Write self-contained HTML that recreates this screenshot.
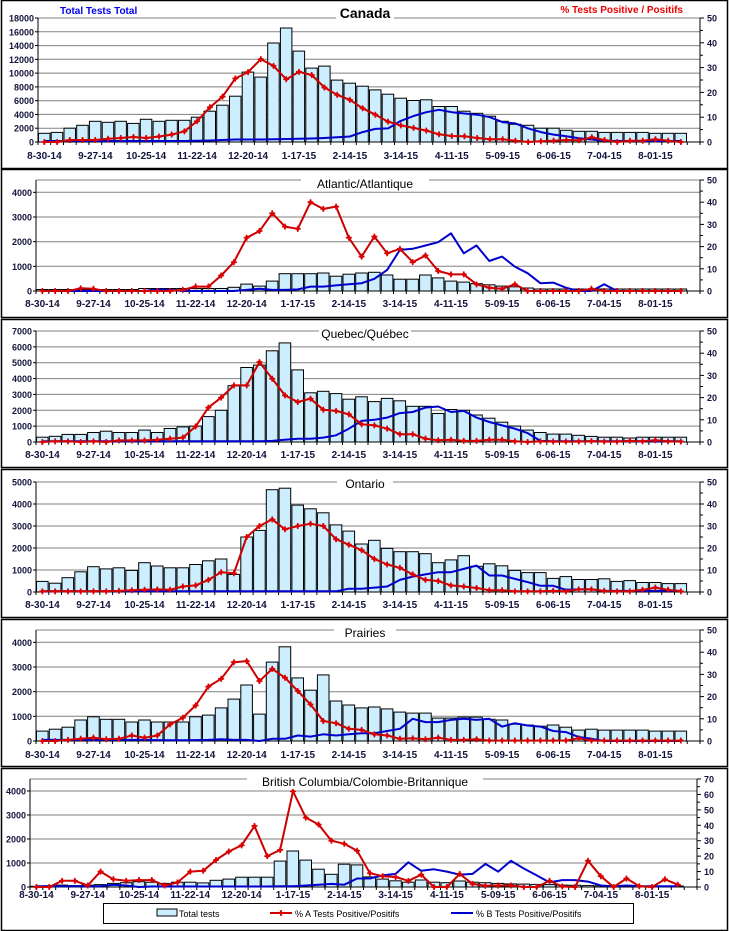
<!DOCTYPE html>
<html><head><meta charset="utf-8"><style>
html,body{margin:0;padding:0;background:#fff;width:729px;height:931px;overflow:hidden}
svg{display:block}
</style></head><body>
<div id="c"></div>
<script>
var FONT='font-family="Liberation Sans, Arial, sans-serif"';
var P=[
{ft:0,fb:168,x0:38,x1:700,yt:18,yb:142,lmax:18000,lstep:2000,rmax:50,rstep:10,title:"Canada",tfs:14,tb:18,tt:0,xlb:159,
bars:[1260,1400,2000,2430,3000,2860,3000,2700,3300,3000,3150,3150,3600,4470,5340,6650,10150,9420,14370,16550,13200,10730,11020,8980,8540,8100,7570,6940,6360,6020,6120,5150,5150,4470,4170,3740,3000,2570,2430,2000,2000,1700,1550,1550,1400,1400,1400,1400,1260,1260,1260],
red:[0,0,0.8,0.8,0.8,1.3,1.6,2,1.6,2.2,3,4.3,8.4,14,18.3,25.6,28.2,33.4,30.7,25.3,28.3,27,22,19,17,13.6,11,8.2,6.7,5.7,4.6,3.1,2.4,2.3,1.6,1.1,1.1,0.5,0,0.3,0.5,0.8,0.7,1.9,0.8,0,0.5,0.5,1.1,0.5,0],
blue:[0.4,0.4,0.4,0.4,0.4,0.4,0.4,0.4,0.4,0.4,0.4,0.4,0.5,0.6,0.8,1,1,1,1.1,1.2,1.3,1.4,1.6,1.9,2.2,4,5.3,5.5,8.5,10.5,12,13,12,11.5,11,10,8,7.5,5.5,4,3,2.3,1.5,1,0.5,0.4,0.4,0.4,0.4,0.4,0.4]},
{ft:169,fb:317,x0:36,x1:700,yt:180,yb:291,lmax:4500,lstep:1000,rmax:50,rstep:10,title:"Atlantic/Atlantique",tfs:12,tb:188,xlb:307,
bars:[60,60,60,60,60,60,60,60,100,100,100,100,100,100,100,150,280,200,400,700,700,700,730,600,680,730,760,650,480,480,650,530,400,360,300,250,200,170,120,80,80,80,80,80,80,80,80,80,80,80,80],
red:[0,0,0,1.2,1,0,0,0,0,0,0,0.5,2,2,7,13,24,27,35,29,28,40,37,38,24,15.5,24.5,17,19,13,16,9,7.5,7.5,3,1.5,1,3,0,0,0,0,0,1,0,0,0,0,0,0,0],
blue:[0,0,0,0,0,0,0,0,0,0.7,0.5,0,0,0,0,0,0.5,1,0.5,0.5,0.7,2,2,2.5,3,3.5,5.5,9.5,18.5,19,20.5,22,26,17,20.5,13.5,15.5,11,8,3.5,3.8,1.5,0,0,3,0,0,0,0,0,0]},
{ft:319,fb:467,x0:36,x1:700,yt:331,yb:442,lmax:7000,lstep:1000,rmax:50,rstep:10,title:"Quebec/Québec",tfs:12,tb:338,xlb:458,
bars:[300,360,480,480,600,680,600,600,750,600,850,950,1000,1600,2000,3550,4700,4850,5750,6250,4550,3100,3200,3050,2700,2850,2550,2750,2600,2250,2250,1800,2050,2000,1700,1500,1250,1000,750,600,500,500,420,350,300,300,250,300,300,300,300],
red:[0,0.3,0.3,0,0.3,0,0.7,0.7,0.7,1,1.5,2,7,15.5,20,25.5,25.5,36,28.5,21,18,19.5,14.5,14,12.5,8,7.5,6,3.5,3.5,1.5,0.8,1,0.5,0.5,1,1,0.3,0,0.3,0.2,0.2,0.2,0.4,0.2,0.2,0.5,0.3,0.8,0.3,0.2],
blue:[0.3,0.3,0.3,0.3,0.3,0.3,0.3,0.3,0.3,0.3,0.3,0.3,0.3,0.3,0.3,0.3,0.3,0.3,0.5,1,1.5,1.5,2,3,6,9.5,10,11,13,13.5,15.5,16,13.5,14,11,9,7.5,6,4,0.5,0.3,0.3,0.3,0.3,0.3,0.3,0.3,0.3,0.3,0.3,0.3]},
{ft:469,fb:617,x0:36,x1:700,yt:482,yb:592,lmax:5000,lstep:1000,rmax:50,rstep:10,title:"Ontario",tfs:12,tb:488,xlb:608,
bars:[480,400,650,920,1150,1050,1100,980,1330,1180,1100,1100,1250,1420,1500,800,2500,2800,4650,4720,3950,3780,3600,3050,2770,2180,2350,1980,1830,1830,1740,1330,1460,1650,1170,1280,1190,980,880,880,620,700,570,570,600,480,520,430,430,380,380],
red:[0.3,0.3,0.3,0.3,0.3,0.3,0.5,0.8,1,1.2,1,2.5,3,5.5,9,8.5,25,30,33,28.5,30,31,30,24,21.5,19,15,12.5,11,8,5.5,5,3,2.5,1.8,0.8,0.8,0.3,0.3,0.3,0.5,0.3,1.2,1.2,0.5,0.3,0.3,1,2,1,0.3],
blue:[0.3,0.3,0.3,0.3,0.3,0.3,0.3,0.3,0.3,0.3,0.3,0.3,0.3,0.3,0.3,0.3,0.3,0.3,0.3,0.3,0.3,0.3,0.3,0.3,1.5,1.5,2,2.5,5.5,7,8,9,9,10.5,12,7.5,7.5,6,4.5,2.8,2.8,1,1.2,1.2,0.5,0.5,0.5,0.5,0.5,0.5,0.5]},
{ft:619,fb:766,x0:36,x1:700,yt:630,yb:741,lmax:4500,lstep:1000,rmax:50,rstep:10,title:"Prairies",tfs:12,tb:637,xlb:758,
bars:[400,480,560,850,980,880,880,770,850,770,770,770,980,1050,1340,1700,2270,1090,3200,3820,2560,2060,2680,1620,1460,1340,1380,1300,1170,1130,1130,930,930,970,970,880,850,680,650,600,650,560,440,480,440,440,440,440,400,400,400],
red:[0,0,0.5,1,1.5,0.8,1,2.5,1.5,2.5,7.5,10.5,16,24.5,28,35.5,36,27,32.5,28.5,22.5,16.5,9,8,5.5,5,3,2.5,1,1.2,0.8,1.5,0.5,0.5,0.8,0.2,0.2,0.2,0.2,0.2,0.2,0.2,1.2,0.2,0.2,0.2,0.2,0.2,0.2,0.2,0.2],
blue:[0.5,0.5,0.5,0.5,0.5,0.5,0.5,0.5,0.5,0.4,0.3,0.3,0.4,0.5,0.8,0.5,0.5,0,1,1,2.5,2,3,2.5,3,3.5,3.5,4.5,5.5,10,8.5,8.5,9.5,10,9.5,10,6.5,8,7,6.5,4.5,4,1.8,1,0,0,0,0,0,0,0]},
{ft:768,fb:930,x0:30,x1:697,yt:779,yb:887,lmax:4500,lstep:1000,rmax:70,rstep:10,title:"British Columbia/Colombie-Britannique",tfs:12,tb:786,xlb:898,
bars:[30,50,80,60,80,100,150,180,220,200,150,200,200,170,280,330,410,410,410,1080,1500,1120,740,530,950,920,420,330,260,200,290,200,180,250,200,180,150,130,120,110,100,80,70,60,50,40,40,40,40,40,40],
red:[0,0,4,4,1,10,5,4,4.5,4.5,1,3,10,10.5,17.5,23,27,39.5,20,24,62,45,40.5,30,28,23.5,9,7,6.5,4,8,0,0,8.5,2,0.8,1,1,0,0,4,0.3,0,17,7,0,5.5,0.5,0,5,1.5],
blue:[0.5,0.5,0.5,0.5,0.5,0.5,1.5,1,0,0.3,0.3,0.3,0.3,0.3,0.3,0.3,0.3,0.3,0.3,0.5,0.5,1,1.5,2,1.5,5.5,5.5,7.5,8.5,16,10.5,11.5,10,8,8.5,15,10,17,12,7.5,3,4.5,4.5,3.5,1,0.5,1,0.5,0.5,0.5,0.5]}
];
var labs=["8-30-14","9-27-14","10-25-14","11-22-14","12-20-14","1-17-15","2-14-15","3-14-15","4-11-15","5-09-15","6-06-15","7-04-15","8-01-15"];
var s='<svg xmlns="http://www.w3.org/2000/svg" width="729" height="931" viewBox="0 0 729 931" '+FONT+'>';
s+='<rect x="0" y="0" width="729" height="931" fill="#fff"/>';
P.forEach(function(p,pi){
  var N=52,cw=(p.x1-p.x0)/N;
  s+='<rect x="1.5" y="'+(p.ft+0.5)+'" width="726" height="'+(p.fb-p.ft)+'" fill="none" stroke="#000" stroke-width="1.5"/>';
  function ly(v){return p.yb-(v/p.lmax)*(p.yb-p.yt);}
  function ry(v){return p.yb-(v/p.rmax)*(p.yb-p.yt);}
  // grid
  for(var v=p.lstep;v<=p.lmax+1;v+=p.lstep){var y=ly(v).toFixed(1);s+='<line x1="'+p.x0+'" x2="'+p.x1+'" y1="'+y+'" y2="'+y+'" stroke="#808080" stroke-width="1"/>';}
  s+='<line x1="'+p.x0+'" x2="'+p.x1+'" y1="'+p.yt+'" y2="'+p.yt+'" stroke="#808080" stroke-width="1"/>';
  // left labels
  for(var v=0;v<=p.lmax+1;v+=p.lstep){var y=ly(v);s+='<text x="'+(p.x0-4)+'" y="'+(y+3.5).toFixed(1)+'" font-size="9" font-weight="bold" fill="#14143c" text-anchor="end">'+v+'</text>';
   s+='<line x1="'+(p.x0-3)+'" x2="'+p.x0+'" y1="'+y+'" y2="'+y+'" stroke="#000"/>';}
  // right labels
  for(var v=0;v<=p.rmax;v+=p.rstep){var y=ry(v);s+='<text x="'+(p.x1+7)+'" y="'+(y+3.5).toFixed(1)+'" font-size="9" font-weight="bold" fill="#14143c">'+v+'</text>';
   s+='<line x1="'+p.x1+'" x2="'+(p.x1+4)+'" y1="'+y+'" y2="'+y+'" stroke="#000"/>';
   if(v<p.rmax){var y2=ry(v+p.rstep/2);s+='<line x1="'+p.x1+'" x2="'+(p.x1+3)+'" y1="'+y2+'" y2="'+y2+'" stroke="#000"/>';}}
  // bars
  p.bars.forEach(function(b,i){var x=p.x0+i*cw+0.5,y=ly(b);s+='<rect x="'+x.toFixed(1)+'" y="'+y.toFixed(1)+'" width="'+(cw-1.2).toFixed(1)+'" height="'+(p.yb-y).toFixed(1)+'" fill="#cceeff" stroke="#000" stroke-width="1"/>';});
  // axes
  s+='<line x1="'+p.x0+'" x2="'+p.x0+'" y1="'+p.yt+'" y2="'+p.yb+'" stroke="#000"/>';
  s+='<line x1="'+p.x1+'" x2="'+p.x1+'" y1="'+p.yt+'" y2="'+p.yb+'" stroke="#000"/>';
  s+='<line x1="'+p.x0+'" x2="'+p.x1+'" y1="'+p.yb+'" y2="'+p.yb+'" stroke="#000"/>';
  for(var i=0;i<=N;i++){var x=(p.x0+i*cw).toFixed(1);s+='<line x1="'+x+'" x2="'+x+'" y1="'+p.yb+'" y2="'+(p.yb+3)+'" stroke="#000"/>';}
  // x labels
  labs.forEach(function(l,k){var x=p.x0+(4*k+0.5)*cw;s+='<text x="'+x.toFixed(1)+'" y="'+p.xlb+'" font-size="10" font-weight="bold" fill="#14143c" text-anchor="middle">'+l+'</text>';});
  // blue line
  var bp=p.blue.map(function(v,i){return (p.x0+(i+0.5)*cw).toFixed(1)+','+ry(v).toFixed(1);}).join(' ');
  s+='<polyline points="'+bp+'" fill="none" stroke="#0000cc" stroke-width="2" stroke-linejoin="round"/>';
  // red line
  var rp=p.red.map(function(v,i){return (p.x0+(i+0.5)*cw).toFixed(1)+','+ry(v).toFixed(1);}).join(' ');
  s+='<polyline points="'+rp+'" fill="none" stroke="#cc0000" stroke-width="2" stroke-linejoin="round"/>';
  p.red.forEach(function(v,i){var x=p.x0+(i+0.5)*cw,y=ry(v);
    s+='<path d="M'+(x-3)+' '+y+'L'+(x+3)+' '+y+'M'+x+' '+(y-3)+'L'+x+' '+(y+3)+'" stroke="#dd0000" stroke-width="1.6"/>';
    s+='<rect x="'+(x-1.8)+'" y="'+(y-1.8)+'" width="3.6" height="3.6" fill="#dd0000" transform="rotate(45 '+x+' '+y+')"/>';});
  // title
  var tw=p.title.length*p.tfs*0.5+14;
  if(pi==0)tw=58;
  var cx=365;
  s+='<rect x="'+(cx-tw/2)+'" y="'+(p.tb-12)+'" width="'+tw+'" height="15" fill="#fff"/>';
  s+='<text x="'+cx+'" y="'+p.tb+'" font-size="'+p.tfs+'" text-anchor="middle" fill="#000"'+(pi==0?' font-weight="bold"':'')+'>'+p.title+'</text>';
});
// header texts
s+='<text x="60" y="14" font-size="10" font-weight="bold" fill="#0000ee">Total Tests Total</text>';
s+='<text x="683" y="13" font-size="10" font-weight="bold" fill="#ee0000" text-anchor="end">% Tests Positive / Positifs</text>';
// legend
s+='<rect x="103.5" y="903.5" width="530" height="20" fill="#fff" stroke="#000"/>';
s+='<rect x="157" y="909" width="20" height="7" fill="#cceeff" stroke="#000"/>';
s+='<text x="179" y="917" font-size="9" fill="#000">Total tests</text>';
s+='<line x1="270" x2="292" y1="913" y2="913" stroke="#cc0000" stroke-width="2"/>';
s+='<rect x="279.2" y="911.2" width="3.6" height="3.6" fill="#dd0000" transform="rotate(45 281 913)"/>';
s+='<path d="M278 913L284 913M281 910L281 916" stroke="#dd0000" stroke-width="1.6"/>';
s+='<text x="295" y="917" font-size="9" fill="#000">% A Tests Positive/Positifs</text>';
s+='<line x1="451" x2="473" y1="913" y2="913" stroke="#0000cc" stroke-width="2"/>';
s+='<text x="476" y="917" font-size="9" fill="#000">% B Tests Positive/Positifs</text>';
s+='</svg>';
document.getElementById('c').innerHTML=s;
</script>
</body></html>
